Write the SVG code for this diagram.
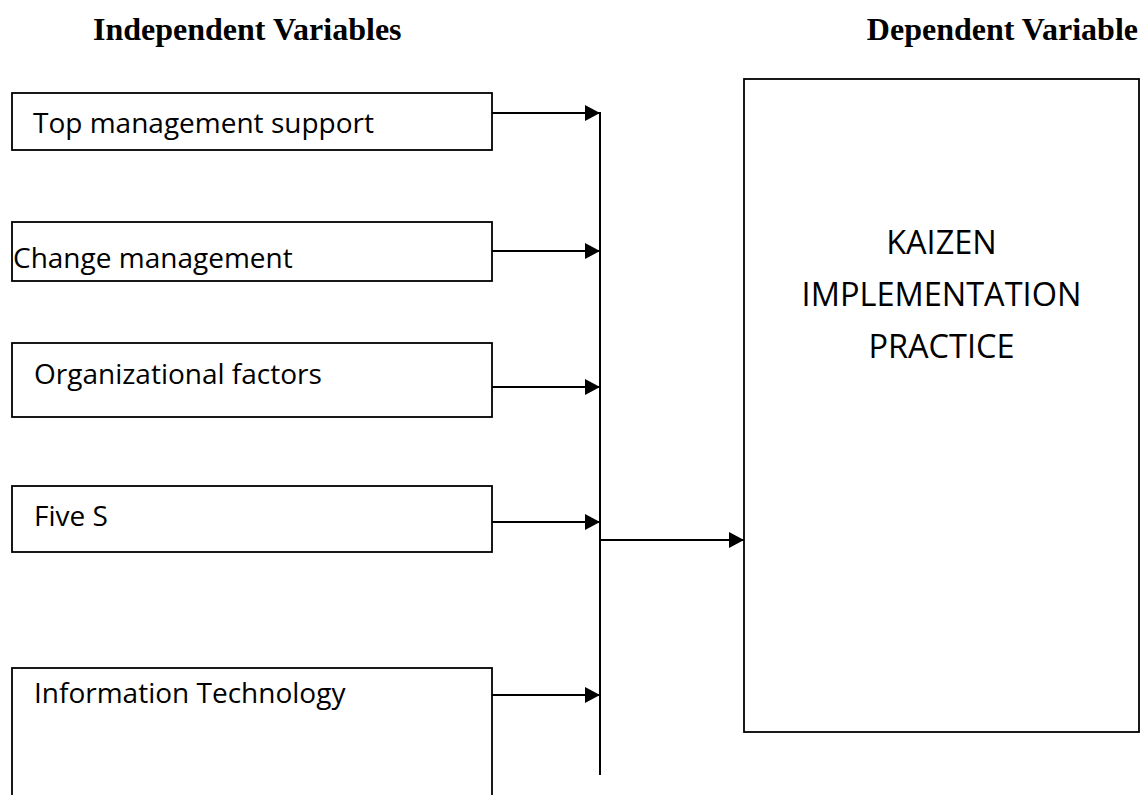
<svg xmlns="http://www.w3.org/2000/svg" width="1141" height="795" viewBox="0 0 1141 795">
<style>
.title{font-family:"Liberation Serif","Times New Roman",serif;font-weight:bold;font-size:32px;fill:#000}
.box{fill:#fff;stroke:#000;stroke-width:1.8}
.lbl{font-family:"Open Sans","Liberation Sans",sans-serif;font-size:28px;fill:#000}
.big{font-family:"Open Sans","Liberation Sans",sans-serif;font-size:32.5px;fill:#000}
.conn{stroke:#000;stroke-width:2;fill:none}
</style>
<defs>
<marker id="ah" markerWidth="16" markerHeight="16" refX="15" refY="8" orient="auto" markerUnits="userSpaceOnUse">
<path d="M0,0 L15,8 L0,16 Z" fill="#000"/>
</marker>
</defs>
<rect width="1141" height="795" fill="#fff"/>
<text class="title" x="93" y="40">Independent Variables</text>
<text class="title" x="1138" y="40" text-anchor="end">Dependent Variable</text>
<g id="n1"><rect class="box" x="12" y="93" width="480" height="57"/><text class="lbl" x="33" y="133">Top management support</text></g>
<g id="n2"><rect class="box" x="12" y="222" width="480" height="59"/><text class="lbl" x="13" y="268">Change management</text></g>
<g id="n3"><rect class="box" x="12" y="343" width="480" height="74"/><text class="lbl" x="34" y="384">Organizational factors</text></g>
<g id="n4"><rect class="box" x="12" y="486" width="480" height="66"/><text class="lbl" x="34" y="526">Five S</text></g>
<g id="n5"><rect class="box" x="12" y="668" width="480" height="140"/><text class="lbl" x="34" y="703">Information Technology</text></g>
<g id="n6"><rect class="box" x="744" y="79" width="395" height="653"/>
<text class="big" x="941.5" y="254" text-anchor="middle">KAIZEN</text>
<text class="big" x="941.5" y="306" text-anchor="middle">IMPLEMENTATION</text>
<text class="big" x="941.5" y="358" text-anchor="middle">PRACTICE</text></g>
<g id="connectors">
<line class="conn" x1="600" y1="112" x2="600" y2="775"/>
<line class="conn" x1="492" y1="113" x2="600" y2="113" marker-end="url(#ah)"/>
<line class="conn" x1="492" y1="251" x2="600" y2="251" marker-end="url(#ah)"/>
<line class="conn" x1="492" y1="387" x2="600" y2="387" marker-end="url(#ah)"/>
<line class="conn" x1="492" y1="522" x2="600" y2="522" marker-end="url(#ah)"/>
<line class="conn" x1="492" y1="695" x2="600" y2="695" marker-end="url(#ah)"/>
<line class="conn" x1="600" y1="540" x2="744" y2="540" marker-end="url(#ah)"/>
</g>
</svg>
